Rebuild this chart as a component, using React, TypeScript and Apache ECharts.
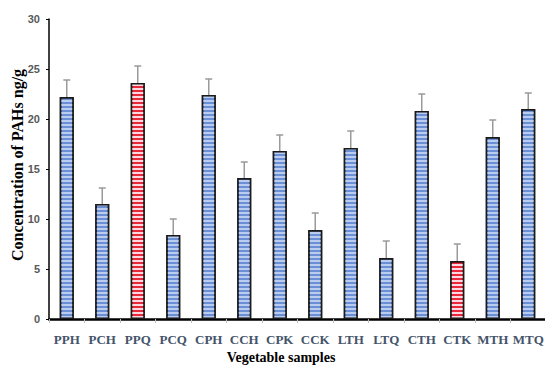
import React, { useEffect, useRef } from "react";
import * as echarts from "echarts";

const categories = ["PPH", "PCH", "PPQ", "PCQ", "CPH", "CCH", "CPK", "CCK", "LTH", "LTQ", "CTH", "CTK", "MTH", "MTQ"];
const values = [22.2, 11.5, 23.6, 8.4, 22.4, 14.1, 16.8, 8.9, 17.1, 6.1, 20.8, 5.8, 18.2, 21.0];
const errors = [1.7, 1.6, 1.7, 1.6, 1.6, 1.6, 1.6, 1.7, 1.7, 1.7, 1.7, 1.7, 1.7, 1.6];
const highlighted = ["PPQ", "CTK"];
const yTicks = [0, 5, 10, 15, 20, 25, 30];
const xTitle = "Vegetable samples";
const yTitle = "Concentration of PAHs ng/g";

export default function App() {
  const ref = useRef<HTMLDivElement>(null);
  useEffect(() => {
    document.body.style.margin = "0";
    const chart = echarts.init(ref.current!, null, { renderer: "svg" });
    const blueDecal = {
      symbol: "rect",
      symbolSize: 1,
      color: "rgba(200,215,245,0.85)",
      dashArrayX: [1, 0],
      dashArrayY: [1.5, 1.5],
      rotation: 0,
    };
    const redDecal = {
      symbol: "rect",
      symbolSize: 1,
      color: "rgba(255,235,240,0.9)",
      dashArrayX: [1, 0],
      dashArrayY: [1.5, 1.5],
      rotation: 0,
    };
    chart.setOption({
      animation: false,
      grid: { left: 49, top: 19, right: -1, bottom: 46, containLabel: false, outerBoundsMode: "none" },
      graphic: [
        {
          type: "text",
          x: 17,
          y: 165,
          rotation: Math.PI / 2,
          style: {
            text: yTitle,
            fontFamily: "Liberation Serif",
            fontWeight: "bold",
            fontSize: 16,
            fill: "#000",
            align: "center",
            verticalAlign: "middle",
          },
        },
        {
          type: "text",
          x: 281,
          y: 357,
          style: {
            text: xTitle,
            fontFamily: "Liberation Serif",
            fontWeight: "bold",
            fontSize: 14,
            fill: "#000",
            align: "center",
            verticalAlign: "middle",
          },
        },
      ],
      xAxis: {
        type: "category",
        data: categories,
        axisLine: { lineStyle: { color: "#000", width: 2.5 } },
        axisTick: { show: true, length: 4, lineStyle: { color: "#bfbfbf", width: 1 } },
        axisLabel: {
          interval: 0,
          fontFamily: "Liberation Serif",
          fontWeight: "bold",
          fontSize: 13,
          color: "#44546a",
          margin: 14,
          hideOverlap: false,
        },
      },
      yAxis: {
        type: "value",
        min: 0,
        max: 30,
        interval: 5,
        axisLine: { show: true, lineStyle: { color: "#000", width: 1.5 } },
        axisTick: { show: true, length: 3, lineStyle: { color: "#000", width: 1 } },
        axisLabel: {
          fontFamily: "Liberation Sans",
          fontWeight: "bold",
          fontSize: 11,
          color: "#595959",
          margin: 9,
          formatter: (v: number) => (yTicks.includes(v) ? String(v) : ""),
        },
        splitLine: { show: false },
      },
      series: [
        {
          type: "bar",
          barWidth: 14,
          data: values.map((v, i) => {
            const red = highlighted.includes(categories[i]);
            return {
              value: v,
              itemStyle: {
                color: red ? "#e8283c" : "#6a8fd4",
                borderColor: "#1a1a1a",
                borderWidth: 1.5,
                decal: red ? redDecal : blueDecal,
              },
            };
          }),
        },
        {
          type: "custom",
          data: values.map((v, i) => [i, v, errors[i]]),
          encode: { x: 0, y: 1 },
          z: 5,
          renderItem: (params: any, api: any) => {
            const i = api.value(0);
            const v = api.value(1);
            const e = api.value(2);
            const p0 = api.coord([i, v]);
            const p1 = api.coord([i, v + e]);
            const style = { stroke: "#9a9a9a", lineWidth: 1.5 };
            return {
              type: "group",
              children: [
                { type: "line", shape: { x1: p0[0], y1: p0[1], x2: p1[0], y2: p1[1] }, style },
                { type: "line", shape: { x1: p1[0] - 3.5, y1: p1[1], x2: p1[0] + 3.5, y2: p1[1] }, style },
              ],
            };
          },
        },
      ],
    });
    return () => chart.dispose();
  }, []);
  return <div ref={ref} style={{ width: 545, height: 365 }} />;
}
